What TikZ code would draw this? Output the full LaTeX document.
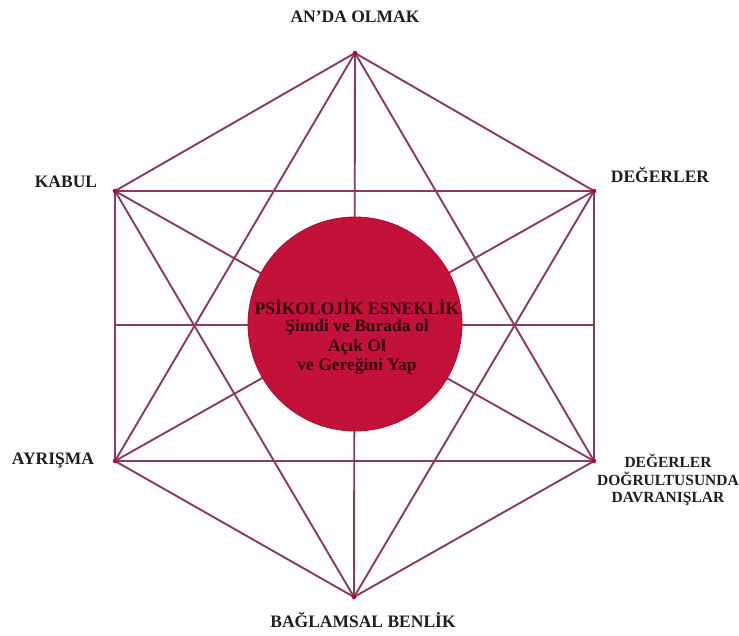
\documentclass[tikz,border=0pt]{standalone}
\usepackage{fontspec}
\setmainfont{Liberation Serif}
\definecolor{edgecol}{RGB}{138,58,96}
\definecolor{discfill}{RGB}{194,18,58}
\definecolor{discline}{RGB}{170,10,45}
\definecolor{labcol}{RGB}{30,30,30}
\definecolor{inncol}{RGB}{50,0,12}
\begin{document}
\begin{tikzpicture}[x=1pt,y=-1pt,
  edge/.style={draw=edgecol,line width=1.9pt},
  vlabel/.style={font=\bfseries\fontsize{17.5}{19}\selectfont,text=labcol,align=center,inner sep=0pt},
  disc/.style={circle,fill=discfill,draw=discline,line width=0.8pt,minimum size=214pt,inner sep=0pt},
  disctext/.style={font=\bfseries\fontsize{17.5}{19.5}\selectfont,text=inncol,align=center,inner sep=0pt},
  vdot/.style={circle,fill=discline,inner sep=0pt,minimum size=4.5pt}]
\useasboundingbox (0,0) rectangle (739,635);
\fill[white] (0,0) rectangle (739,635);
\coordinate (T) at (355,53);
\coordinate (UL) at (115,191);
\coordinate (UR) at (594,191);
\coordinate (LL) at (115,461);
\coordinate (LR) at (594,461);
\coordinate (B) at (354,597);
\coordinate (ML) at (115,325);
\coordinate (MR) at (594,325);
% hexagon
\draw[edge] (T) -- (UR) -- (LR) -- (B) -- (LL) -- (UL) -- cycle;
% all diagonals
\draw[edge] (T) -- (LL);
\draw[edge] (T) -- (LR);
\draw[edge] (T) -- (B);
\draw[edge] (UL) -- (UR);
\draw[edge] (UL) -- (LR);
\draw[edge] (UL) -- (B);
\draw[edge] (UR) -- (LL);
\draw[edge] (UR) -- (B);
\draw[edge] (LL) -- (LR);
\draw[edge] (ML) -- (MR);
% vertex dots
\foreach \p in {T,UL,UR,LL,LR,B} \node[vdot] at (\p) {};
% central disc
\node[disc] (C) at (355,324) {};
\node[disctext] (Ct) at (357,337) {PSİKOLOJİK ESNEKLİK\\[-2pt]Şimdi ve Burada ol\\Açık Ol\\ve Gereğini Yap};
% labels
\node[vlabel] (lT) at (355,17) {AN'DA OLMAK};
\node[vlabel] (lUL) at (66,182) {KABUL};
\node[vlabel] (lUR) at (660,175) {DEĞERLER};
\node[vlabel] (lLL) at (53,461) {AYRIŞMA};
\node[vlabel,font=\bfseries\fontsize{15.5}{17.5}\selectfont] (lLR) at (668,480) {DEĞERLER\\DOĞRULTUSUNDA\\DAVRANIŞLAR};
\node[vlabel] (lB) at (363,620) {BAĞLAMSAL BENLİK};
\end{tikzpicture}
\end{document}
